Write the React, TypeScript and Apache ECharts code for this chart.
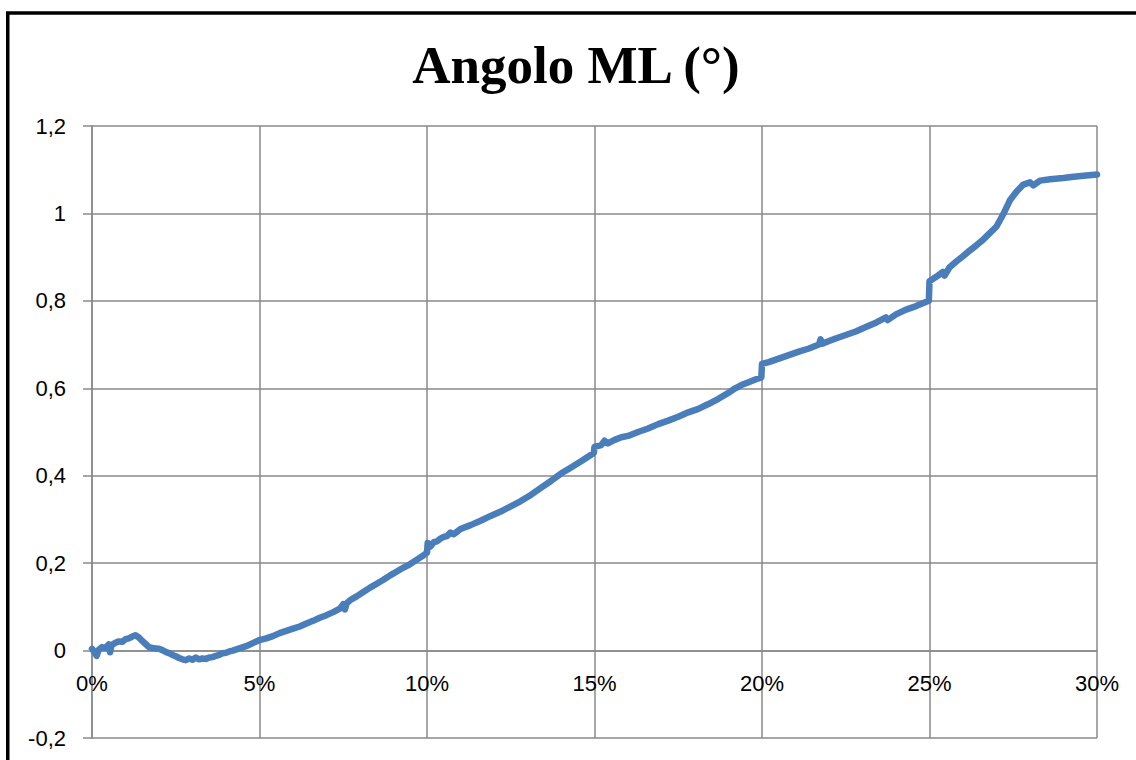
import React, { useEffect, useRef } from "react";
import * as echarts from "echarts";

const TITLE = "Angolo ML (°)";
const X_TICKS = [0, 5, 10, 15, 20, 25, 30];
const Y_MIN = -0.2;
const Y_MAX = 1.2;
const Y_STEP = 0.2;

// x in percent
const xs = [
  0.0, 0.08, 0.14, 0.2, 0.3, 0.4, 0.5, 0.54, 0.58, 0.7, 0.8, 0.9, 1.0, 1.1, 1.2, 1.3, 1.4, 1.5, 1.6, 1.7,
  1.8, 1.9, 2.0, 2.1, 2.2, 2.3, 2.4, 2.5, 2.6, 2.7, 2.8, 2.9, 3.0, 3.1, 3.2, 3.3, 3.4, 3.5, 3.6, 3.7,
  3.8, 3.9, 4.0, 4.1, 4.2, 4.4, 4.6, 4.8, 5.0, 5.2, 5.4, 5.6, 5.8, 6.0, 6.2, 6.4, 6.6, 6.8, 7.0, 7.2,
  7.4, 7.5, 7.55, 7.6, 7.7, 7.9, 8.1, 8.3, 8.5, 8.7, 8.9, 9.1, 9.3, 9.5, 9.7, 9.9, 10.0, 10.02, 10.1, 10.2,
  10.3, 10.4, 10.5, 10.6, 10.7, 10.8, 10.9, 11.0, 11.3, 11.6, 11.9, 12.2, 12.5, 12.8, 13.1, 13.4, 13.7, 14.0, 14.3, 14.6,
  14.98, 15.0, 15.2, 15.3, 15.4, 15.6, 15.8, 16.0, 16.3, 16.6, 16.9, 17.2, 17.5, 17.8, 18.1, 18.4, 18.7, 19.0, 19.2, 19.4, 19.6,
  19.8, 19.98, 20.0, 20.2, 20.5, 20.8, 21.1, 21.4, 21.7, 21.75, 21.8, 22.0, 22.2, 22.5, 22.8, 23.1, 23.4, 23.7, 23.75, 24.0, 24.3, 24.6, 24.98,
  25.0, 25.2, 25.4, 25.45, 25.6, 25.8, 26.0, 26.2, 26.4, 26.6, 26.8, 27.0, 27.2, 27.4, 27.6, 27.8, 28.0, 28.1, 28.3, 28.6, 29.0, 29.3,
  29.6, 30.0,
];

const ys = [
  0.004, -0.004, -0.012, 0.002, 0.008, 0.006, 0.014, -0.004, 0.012, 0.018, 0.021, 0.02, 0.026, 0.028, 0.032, 0.035, 0.03, 0.022, 0.015, 0.008,
  0.006, 0.005, 0.004, 0.001, -0.003, -0.006, -0.01, -0.013, -0.017, -0.02, -0.022, -0.018, -0.021, -0.016, -0.02, -0.018, -0.019, -0.016, -0.015, -0.012,
  -0.01, -0.006, -0.005, -0.002, 0.0, 0.005, 0.01, 0.017, 0.024, 0.028, 0.033, 0.04, 0.045, 0.05, 0.055, 0.062, 0.068, 0.075, 0.081, 0.088,
  0.096, 0.106, 0.094, 0.108, 0.115, 0.124, 0.134, 0.144, 0.153, 0.162, 0.172, 0.181, 0.19, 0.198, 0.208, 0.218, 0.224, 0.246, 0.238, 0.248,
  0.25, 0.256, 0.26, 0.262, 0.27, 0.266, 0.272, 0.278, 0.287, 0.297, 0.308, 0.318, 0.33, 0.342, 0.356, 0.372, 0.388, 0.405, 0.419, 0.433,
  0.452, 0.466, 0.47, 0.48, 0.474, 0.482, 0.488, 0.491, 0.5, 0.508, 0.518, 0.526, 0.535, 0.545, 0.553, 0.564, 0.576, 0.59, 0.6, 0.608, 0.614,
  0.62, 0.625, 0.656, 0.66, 0.668, 0.676, 0.684, 0.691, 0.7, 0.712, 0.702, 0.708, 0.714, 0.722, 0.73, 0.74, 0.75, 0.762, 0.756, 0.769, 0.78, 0.788, 0.8,
  0.845, 0.855, 0.866, 0.858, 0.877, 0.89, 0.902, 0.915, 0.927, 0.94, 0.955, 0.97, 0.998, 1.03, 1.05, 1.066, 1.071, 1.064, 1.075, 1.078, 1.081, 1.084,
  1.086, 1.089,
];

const GRID_COLOR = "#8a8a8a";
const LINE_COLOR = "#4a7ebb";
const LABEL_FONT = "'Liberation Sans', Arial, sans-serif";

const GRID_TOP = 126;
const GRID_BOTTOM = 22;
const CHART_H = 760;

export default function App() {
  const ref = useRef<HTMLDivElement>(null);

  useEffect(() => {
    if (!ref.current) return;
    const chart = echarts.init(ref.current, undefined, { renderer: "svg" });
    const data = xs.map((x, i) => [x, ys[i]]);
    const plotH = CHART_H - GRID_TOP - GRID_BOTTOM;
    // place the x axis at value 0 (Excel "axis crosses at 0")
    const zeroOffset = -(plotH * (0 - Y_MIN)) / (Y_MAX - Y_MIN);
    chart.setOption({
      animation: false,
      backgroundColor: "#ffffff",
      grid: {
        left: 92,
        right: 39,
        top: GRID_TOP,
        bottom: GRID_BOTTOM,
        containLabel: false,
        outerBoundsMode: "none",
      },
      graphic: [
        {
          type: "rect",
          shape: { x: 7.75, y: 13, width: 1300, height: 900 },
          style: { fill: "none", stroke: "#000", lineWidth: 3.5 },
          silent: true,
        },
        {
          type: "text",
          x: 576,
          y: 65,
          style: {
            text: TITLE,
            fill: "#000",
            font: "bold 53px 'Liberation Serif', 'Times New Roman', serif",
            align: "center",
            verticalAlign: "middle",
          },
        },
      ],
      xAxis: {
        type: "value",
        position: "bottom",
        offset: zeroOffset,
        min: X_TICKS[0],
        max: X_TICKS[X_TICKS.length - 1],
        interval: 5,
        axisLine: { show: true, onZero: false, lineStyle: { color: GRID_COLOR, width: 1.5 } },
        axisTick: { show: false },
        axisLabel: {
          formatter: (v: number) => `${v}%`,
          color: "#000",
          fontSize: 22,
          fontFamily: LABEL_FONT,
          margin: 22,
          showMinLabel: true,
          showMaxLabel: true,
        },
        splitLine: { show: true, lineStyle: { color: GRID_COLOR, width: 1.5 } },
      },
      yAxis: {
        type: "value",
        min: Y_MIN,
        max: Y_MAX,
        interval: Y_STEP,
        axisLine: { show: true, onZero: false, lineStyle: { color: GRID_COLOR, width: 1.5 } },
        axisTick: { show: true, length: 9, inside: false, lineStyle: { color: GRID_COLOR, width: 1.5 } },
        axisLabel: {
          formatter: (v: number) => String(Math.round(v * 10) / 10).replace(".", ","),
          color: "#000",
          fontSize: 22,
          fontFamily: LABEL_FONT,
          margin: 26,
        },
        splitLine: { show: true, lineStyle: { color: GRID_COLOR, width: 1.5 } },
      },
      series: [
        {
          type: "line",
          data,
          showSymbol: false,
          symbol: "none",
          lineStyle: { color: LINE_COLOR, width: 6.5, cap: "round", join: "round" },
          smooth: false,
        },
      ],
    });
    return () => chart.dispose();
  }, []);

  return (
    <div
      ref={ref}
      style={{ position: "absolute", left: 0, top: 0, width: 1136, height: 760 }}
    />
  );
}
